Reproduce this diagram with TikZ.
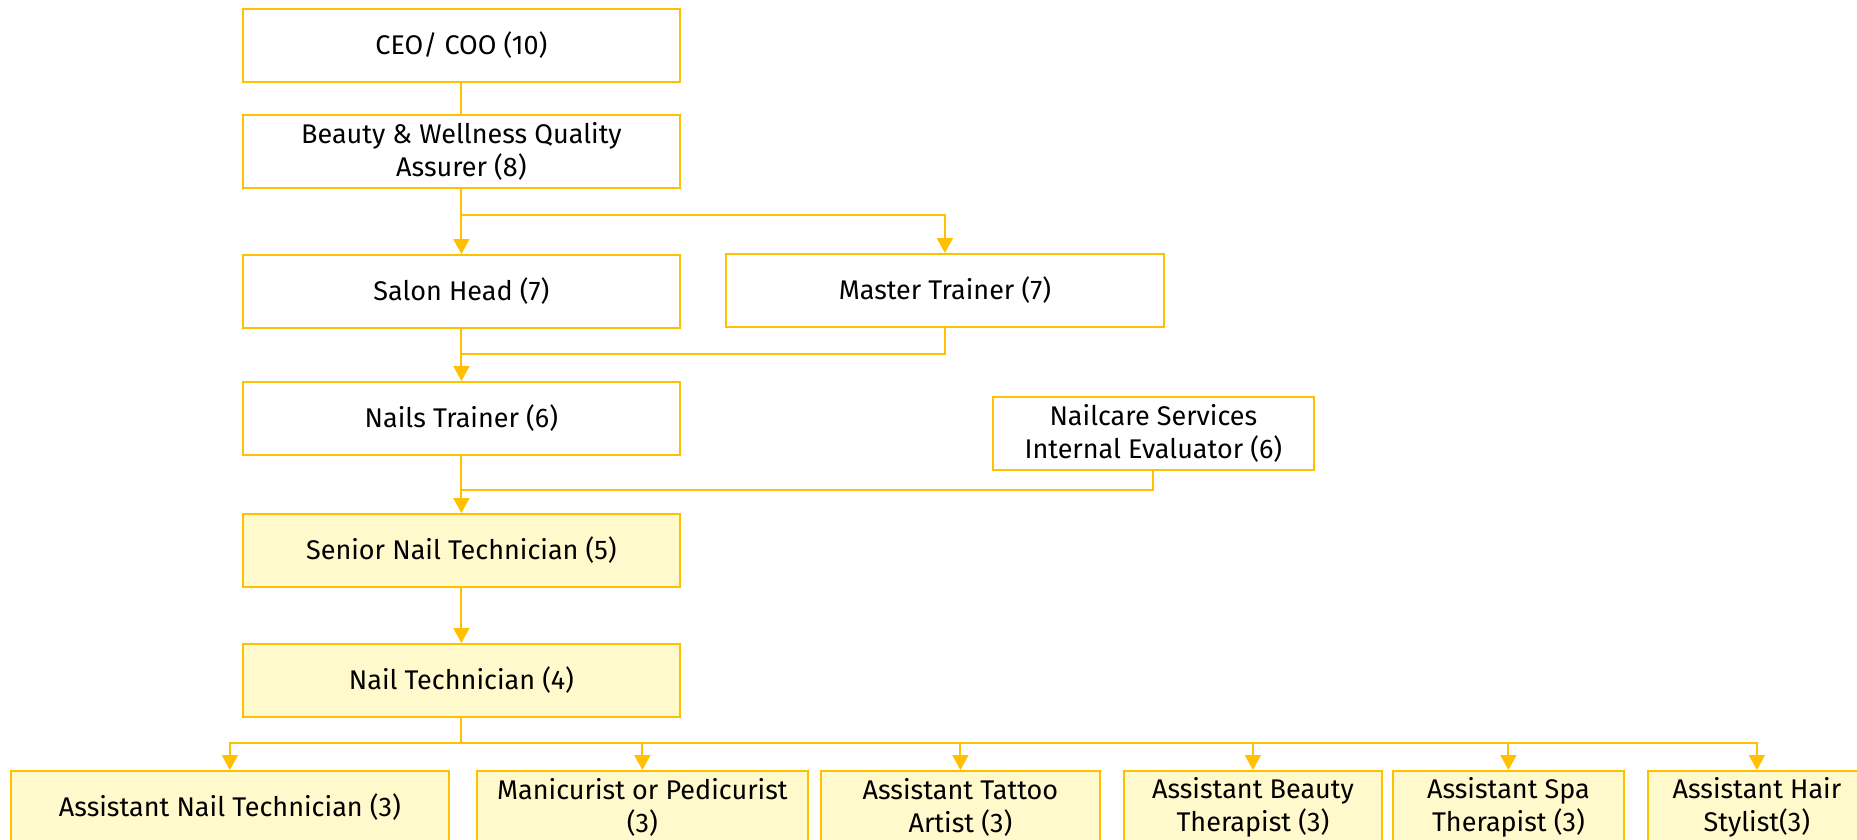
\documentclass[tikz,border=0pt]{standalone}
\usepackage{fontspec}
\setmainfont{Fira Sans}
\usetikzlibrary{arrows.meta}
\definecolor{gold}{HTML}{FFC000}
\definecolor{paleyellow}{HTML}{FFF9CC}
\tikzset{
  box/.style={draw=gold, line width=1.8pt, anchor=north west, inner sep=0pt,
    align=center, font=\fontsize{27}{33}\selectfont, text=black},
  hl/.style={box, fill=paleyellow},
  conn/.style={draw=gold, line width=1.9pt},
  arr/.style={conn, -{Triangle[width=16pt,length=15pt]}},
}
\begin{document}
\begin{tikzpicture}[x=1pt,y=1pt]
\useasboundingbox (0,0) rectangle (1857,-840);
\clip (0,0) rectangle (1857,-840);
\node[box, minimum width=437pt, minimum height=73pt] (ceo) at (242,-8) {CEO/ COO (10)};
\node[box, minimum width=437pt, minimum height=73pt] (qa) at (242,-114) {Beauty \& Wellness Quality\\Assurer (8)};
\node[box, minimum width=437pt, minimum height=73pt] (salon) at (242,-254) {Salon Head (7)};
\node[box, minimum width=438pt, minimum height=73pt] (master) at (725,-253) {Master Trainer (7)};
\node[box, minimum width=437pt, minimum height=73pt] (nails) at (242,-381) {Nails Trainer (6)};
\node[box, minimum width=321pt, minimum height=73pt] (eval) at (992,-396) {Nailcare Services\\Internal Evaluator (6)};
\node[hl, minimum width=437pt, minimum height=73pt] (senior) at (242,-513) {Senior Nail Technician (5)};
\node[hl, minimum width=437pt, minimum height=73pt] (tech) at (242,-643) {Nail Technician (4)};
\node[hl, minimum width=438pt, minimum height=73pt] (ant) at (10,-770) {Assistant Nail Technician (3)};
\node[hl, minimum width=331pt, minimum height=73pt] (mani) at (476,-770) {Manicurist or Pedicurist\\(3)};
\node[hl, minimum width=279pt, minimum height=73pt] (tattoo) at (820,-770) {Assistant Tattoo\\Artist (3)};
\node[hl, minimum width=258pt, minimum height=73pt] (bther) at (1123,-770) {Assistant Beauty\\Therapist (3)};
\node[hl, minimum width=231pt, minimum height=73pt] (spa) at (1392,-770) {Assistant Spa\\Therapist (3)};
\node[hl, minimum width=218pt, minimum height=73pt] (hair) at (1647,-770) {Assistant Hair\\Stylist(3)};
\coordinate (b1) at (0,-215);
\coordinate (b2) at (0,-354);
\coordinate (b3) at (0,-490);
\coordinate (b4) at (0,-743);
\draw[conn] (ceo.south) -- (qa.north);
\draw[arr] (qa.south) -- (salon.north);
\draw[arr] (qa.south) |- (master.north |- b1) -- (master.north);
\draw[arr] (salon.south) -- (nails.north);
\draw[conn] (master.south) |- (salon.south |- b2);
\draw[arr] (nails.south) -- (senior.north);
\draw[conn] (eval.south) |- (nails.south |- b3);
\draw[arr] (senior.south) -- (tech.north);
\foreach \c in {ant,mani,tattoo,bther,spa,hair}{
  \draw[arr] (tech.south) |- (\c.north |- b4) -- (\c.north);
}
\end{tikzpicture}
\end{document}
